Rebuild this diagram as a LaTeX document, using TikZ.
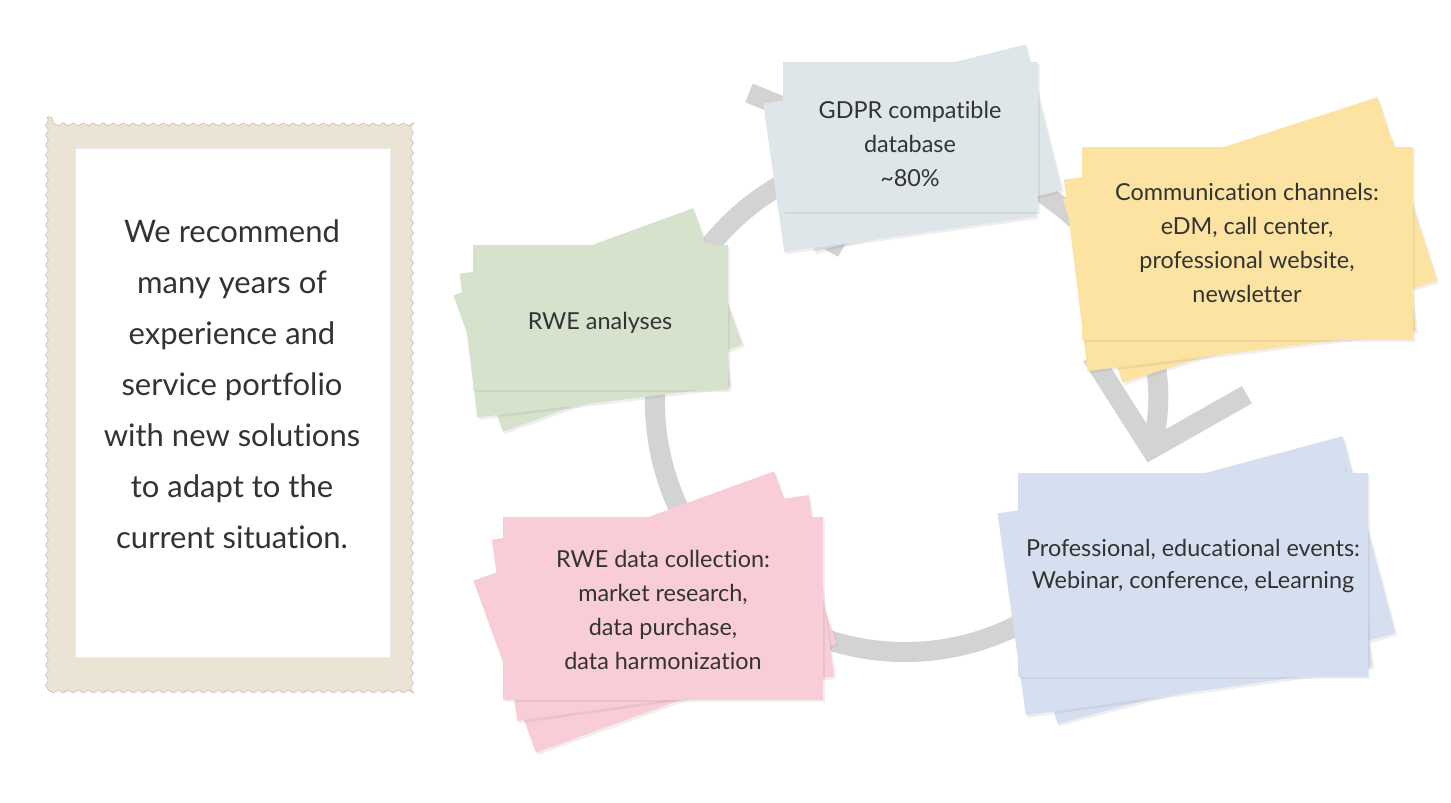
\documentclass[tikz,border=0pt]{standalone}
\usepackage{fontspec}
\setmainfont{Lato}[Ligatures={NoCommon}]
\usetikzlibrary{arrows.meta,positioning,shadows,decorations.pathmorphing}

\definecolor{ringgray}{HTML}{D3D3D3}
\definecolor{cardgdpr}{HTML}{DEE6EA}
\definecolor{cardcomm}{HTML}{FCE3A2}
\definecolor{cardanal}{HTML}{D6E2CC}
\definecolor{cardcoll}{HTML}{F8CDD7}
\definecolor{cardprof}{HTML}{D6DFF0}
\definecolor{framebeige}{HTML}{EBE4D4}
\definecolor{inktext}{HTML}{333333}

\begin{document}
\begin{tikzpicture}[x=0.5pt, y=-0.5pt,
    card/.style={rectangle, inner sep=0pt,
                 drop shadow={opacity=0.12, shadow xshift=1pt, shadow yshift=-1.2pt}},
    cardtext/.style={align=center, text=inktext, inner sep=0pt,
                 font=\fontsize{11.7}{17}\selectfont},
    ring/.style={ringgray, line width=10pt},
]
\useasboundingbox (0,0) rectangle (1451,803);
\fill[white] (0,0) rectangle (1451,803);

% Frame with the message
\fill[framebeige, draw=framebeige!85!black, line width=0.3pt,
      decorate, decoration={snake, segment length=5pt, amplitude=0.7pt}]
    (47,117) rectangle (415,686);
\node[fill=white, draw=black!8, inner sep=0pt, minimum width=157.5pt, minimum height=254.5pt]
    (msgbox) at (232.5,402.5) {};
\node[align=center, text=inktext, font=\fontsize{15.5}{25.5}\selectfont] (msg) at (232,384)
    {We recommend\\many years of\\experience and\\service portfolio\\with new solutions\\to adapt to the\\current situation.};

% Ring behind the cards
\coordinate (ring) at (905,402);
\draw[ring, -{Straight Barb[length=38pt, width=80pt]}]
    ([shift={(30:250)}]ring) arc[start angle=30, end angle=374, radius=250];
% Strips under the database card
\draw[ring] (749,93) -- ++(45,18);
\draw[ring] (803,226) -- ++(40,22);

% Back cards of every stack
\foreach \nm/\col/\cx/\cy/\w/\h/\ang in {
    gdprA/cardgdpr/920/148/127.5/75/14, gdprB/cardgdpr/900/160/127.5/75/8,
    commA/cardcomm/1250/240/165.5/96.5/18, commB/cardcomm/1240/255/165.5/96.5/7,
    analA/cardanal/598/320/127.5/72.5/20, analB/cardanal/595/330/127.5/72.5/7,
    collA/cardcoll/655/612/160/91.5/20, collB/cardcoll/663/608/160/91.5/8,
    profA/cardprof/1200/580/175/102/15, profB/cardprof/1185/590/175/102/8} {
    \node[card, fill=\col, minimum width=\w pt, minimum height=\h pt, rotate=\ang]
        (\nm) at (\cx,\cy) {};
}

% Front cards
\node[card, fill=cardgdpr, minimum width=127.5pt, minimum height=75pt] (gdpr) at (910,137) {};
\node[card, fill=cardcomm, minimum width=165.5pt, minimum height=96.5pt] (comm) at (1247,243) {};
\node[card, fill=cardanal, minimum width=127.5pt, minimum height=72.5pt] (anal) at (600,317) {};
\node[card, fill=cardcoll, minimum width=160pt, minimum height=91.5pt] (coll) at (663,608) {};
\node[card, fill=cardprof, minimum width=175pt, minimum height=102pt] (prof) at (1193,575) {};

% Card texts
\node[cardtext] (gdprtxt) at ([yshift=-3.5pt]gdpr.center)
    {GDPR compatible\\database\\\textasciitilde80\%};
\node[cardtext] (commtxt) at (comm.center)
    {Communication channels:\\eDM, call center,\\professional website,\\newsletter};
\node[cardtext] (analtxt) at ([yshift=-3pt]anal.center) {RWE analyses};
\node[cardtext] (colltxt) at ([yshift=-1pt]coll.center)
    {RWE data collection:\\market research,\\data purchase,\\data harmonization};
\node[cardtext, font=\fontsize{11.7}{16}\selectfont] (proftxt) at ([yshift=4.5pt]prof.center)
    {Professional, educational events:\\Webinar, conference, eLearning};
\end{tikzpicture}
\end{document}
